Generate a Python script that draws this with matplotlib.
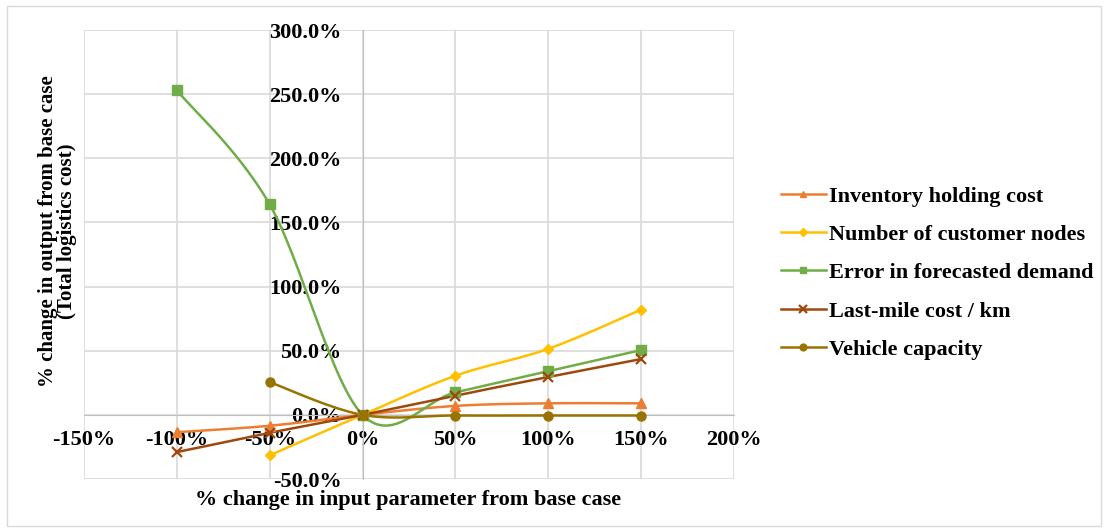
import numpy as np
import matplotlib.pyplot as plt
from matplotlib.patches import Rectangle
from matplotlib.ticker import FuncFormatter, MultipleLocator

# input change (%) and output change (%) for each parameter
x_full = [-100, -50, 0, 50, 100, 150]
x_half = [-50, 0, 50, 100, 150]

inventory_holding = [-13.5, -8.5, 0, 7.0, 9.0, 9.0]
customer_nodes = [-31.5, 0, 30.5, 51.5, 82.0]
forecast_error = [253.0, 164.0, 0, 17.5, 34.0, 50.5]
last_mile = [-29.0, -14.0, 0, 15.0, 29.5, 43.5]
vehicle_capacity = [25.5, 0, -0.5, -0.5, -0.5]

labels = ['Inventory holding cost', 'Number of customer nodes',
          'Error in forecasted demand', 'Last-mile cost / km', 'Vehicle capacity']
colors = ['#ED7D31', '#FFC000', '#70AD47', '#9E480E', '#997300']
markers = ['^', 'D', 's', 'x', 'o']


def smooth(xs, ys, n=30):
    # bezier smoothing through the points, control points from neighbours
    p = np.column_stack([xs, ys]).astype(float)
    out = [p[0]]
    for i in range(len(p) - 1):
        p0 = p[i - 1] if i > 0 else p[i]
        p1, p2 = p[i], p[i + 1]
        p3 = p[i + 2] if i + 2 < len(p) else p[i + 1]
        c1 = p1 + (p2 - p0) / 6
        c2 = p2 - (p3 - p1) / 6
        t = np.linspace(0, 1, n)[1:, None]
        seg = ((1 - t) ** 3) * p1 + 3 * ((1 - t) ** 2) * t * c1 + 3 * (1 - t) * t ** 2 * c2 + t ** 3 * p2
        out.extend(seg)
    out = np.array(out)
    return out[:, 0], out[:, 1]


plt.rcParams['font.family'] = 'Liberation Serif'
plt.rcParams['font.weight'] = 'bold'

fig = plt.figure(figsize=(11.08, 5.32), dpi=100)
fig.patches.append(Rectangle((0.006, 0.011), 0.988, 0.978, transform=fig.transFigure,
                             fill=False, edgecolor='#D9D9D9', linewidth=1))
ax = fig.add_axes([0.0758, 0.0996, 0.5866, 0.8440])

series = [(x_full, inventory_holding), (x_half, customer_nodes), (x_full, forecast_error),
          (x_full, last_mile), (x_half, vehicle_capacity)]
for (xs, ys), lab, c, m in zip(series, labels, colors, markers):
    sx, sy = smooth(xs, ys)
    ax.plot(sx, sy, color=c, linewidth=1.8, zorder=3)
    ms = 7.5 if m == 'x' else (5.5 if m == 'D' else 6.5)
    mew = 1.6 if m == 'x' else 1
    ax.plot(xs, ys, linestyle='none', marker=m, color=c, markersize=ms,
            markeredgewidth=mew, zorder=4)
    ax.plot([], [], color=c, marker=m, linewidth=1.8, markersize=ms * 0.75,
            markeredgewidth=mew, label=lab)

ax.set_xlim(-150, 200)
ax.set_ylim(-50, 300)
ax.xaxis.set_major_locator(MultipleLocator(50))
ax.yaxis.set_major_locator(MultipleLocator(50))
ax.xaxis.set_major_formatter(FuncFormatter(lambda v, p: f'{v:.0f}%'))
ax.yaxis.set_major_formatter(FuncFormatter(lambda v, p: f'{v:.1f}%'))
ax.grid(True, color='#D9D9D9', linewidth=1.2, zorder=0)
ax.set_axisbelow(True)

for s in ['top', 'right']:
    ax.spines[s].set_visible(False)
ax.spines['left'].set_position(('data', 0))
ax.spines['bottom'].set_position(('data', 0))
ax.spines['left'].set_color('#BFBFBF')
ax.spines['bottom'].set_color('#BFBFBF')
ax.tick_params(length=0, labelsize=16)
ax.tick_params(axis='y', pad=15)
ax.tick_params(axis='x', pad=11)

fig.text(0.368, 0.061, '% change in input parameter from base case', ha='center', va='center',
         fontsize=16, fontweight='bold')
fig.text(0.052, 0.565, '% change in output from base case\n(Total logistics cost)', ha='center',
         va='center', rotation=90, fontsize=15, fontweight='bold', linespacing=0.95)

ax.legend(loc='center left', bbox_to_anchor=(0.687, 0.487), bbox_transform=fig.transFigure,
          frameon=False, fontsize=16, handlelength=2.0, handletextpad=0.15, labelspacing=0.8)

plt.savefig('out.png')
